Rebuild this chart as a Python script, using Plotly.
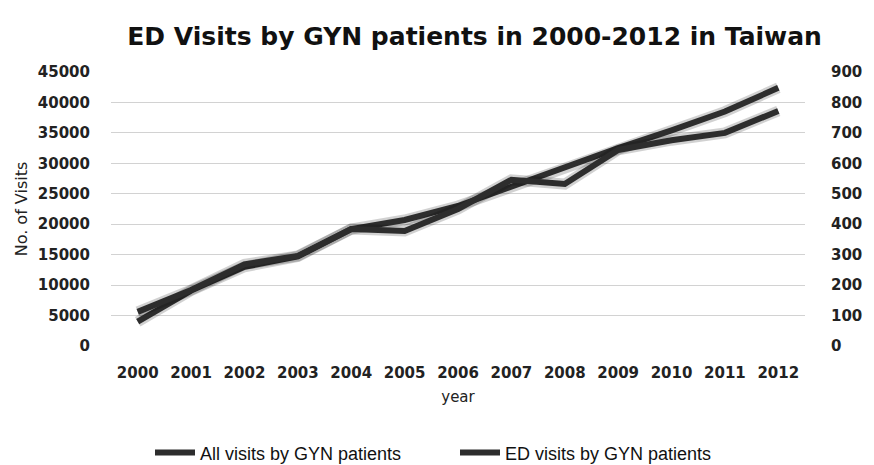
import plotly.graph_objects as go

years = [str(y) for y in range(2000, 2013)]
all_visits = [4000, 9100, 13000, 14700, 19200, 20700, 23000, 26200, 29200, 32500, 35400, 38500, 42400]
ed_visits = [112, 184, 268, 296, 384, 378, 450, 546, 532, 644, 676, 700, 772]

left_ticks = list(range(0, 45001, 5000))
right_ticks = list(range(0, 901, 100))

LINE = "#2d2d2d"
SHADOW = "rgba(0,0,0,0.18)"
FONT = "DejaVu Sans"
TEXT = "#222222"

fig = go.Figure()

# soft halo under each line
fig.add_trace(go.Scatter(x=years, y=all_visits, mode="lines", yaxis="y",
                         line=dict(color=SHADOW, width=11), showlegend=False, hoverinfo="skip"))
fig.add_trace(go.Scatter(x=years, y=ed_visits, mode="lines", yaxis="y2",
                         line=dict(color=SHADOW, width=11), showlegend=False, hoverinfo="skip"))

fig.add_trace(go.Scatter(x=years, y=all_visits, mode="lines", name="All visits by GYN patients",
                         yaxis="y", line=dict(color=LINE, width=6)))
fig.add_trace(go.Scatter(x=years, y=ed_visits, mode="lines", name="ED visits by GYN patients",
                         yaxis="y2", line=dict(color=LINE, width=6)))

fig.update_layout(
    width=874, height=465,
    margin=dict(l=111, r=57, t=72, b=119),
    paper_bgcolor="white", plot_bgcolor="white",
    font=dict(family=FONT, color=TEXT),
    title=dict(text="<b>ED Visits by GYN patients in 2000-2012 in Taiwan</b>",
               x=0.543, xanchor="center", y=0.923, yanchor="middle",
               font=dict(size=25, color="#111111")),
    xaxis=dict(type="category", range=[-0.5, 12.5], showgrid=False, zeroline=False,
               showline=False, ticks="", ticklabelstandoff=16,
               tickfont=dict(size=15, color=TEXT, weight="bold"),
               title=dict(text="year", font=dict(size=15), standoff=10)),
    yaxis=dict(range=[0, 45000], tickvals=left_ticks, ticktext=[str(v) for v in left_ticks],
               showgrid=True, gridcolor="#d2d2d2", gridwidth=1, zeroline=False,
               showline=False, ticks="", ticklabelstandoff=20,
               tickfont=dict(size=15, color=TEXT, weight="bold"),
               title=dict(text="No. of Visits", font=dict(size=16), standoff=6)),
    yaxis2=dict(range=[0, 900], tickvals=right_ticks, ticktext=[str(v) for v in right_ticks],
                overlaying="y", side="right", showgrid=False, zeroline=False,
                showline=False, ticks="", ticklabelstandoff=25,
                tickfont=dict(size=15, color=TEXT, weight="bold")),
    legend=dict(orientation="h", xref="container", x=150 / 874, xanchor="left",
                yref="container", y=0.026, yanchor="middle",
                font=dict(size=18, color="#111111", family="Liberation Sans"),
                itemwidth=40, entrywidth=250, entrywidthmode="pixels",
                bgcolor="rgba(0,0,0,0)"),
    showlegend=True,
)

fig.write_html("out.html")
